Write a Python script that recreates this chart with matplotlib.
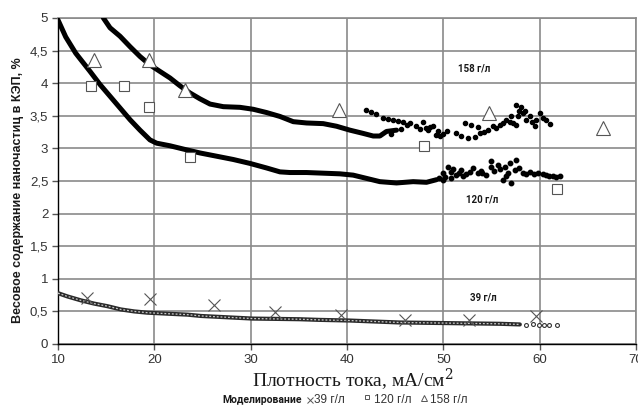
import matplotlib
matplotlib.use("Agg")
import matplotlib.pyplot as plt
from matplotlib.lines import Line2D
from matplotlib.ticker import FixedLocator, FuncFormatter

# ---------------- data ----------------
# experimental curve, 158 g/l: smooth part
c158_x = [14.71, 15.40, 16.44, 17.48, 18.51, 19.55, 20.59, 21.63, 22.66, 23.70,
          24.74, 25.78, 27.16, 28.89, 30.27, 31.65, 33.04, 34.42, 35.80, 37.53,
          38.91, 40.30, 41.68, 42.72, 43.41, 44.10, 45.14]
c158_y = [5.00, 4.85, 4.72, 4.56, 4.41, 4.28, 4.18, 4.08, 3.96, 3.85,
          3.76, 3.68, 3.64, 3.63, 3.60, 3.55, 3.49, 3.41, 3.39, 3.38,
          3.34, 3.28, 3.23, 3.19, 3.19, 3.26, 3.28]
# experimental scatter, 158 g/l: noisy part
s158_x = [42.00, 42.50, 43.06, 43.75, 44.30, 44.79, 45.30, 45.83, 46.52, 47.21,
          47.91, 48.25, 48.60, 48.94, 49.46, 49.63, 50.33, 44.60, 45.60, 46.20,
          51.36, 51.88, 52.57, 53.26, 53.78, 52.22, 52.91, 53.60, 54.64, 55.16,
          55.85, 56.55, 57.07, 57.59, 58.11, 57.24, 58.28, 58.97, 59.66, 60.00,
          60.35, 61.04, 59.49, 57.59, 56.20, 47.60, 48.40, 49.20, 50.00, 54.20,
          55.50, 56.90, 57.90, 58.60, 59.20, 60.70, 57.80, 58.50]
s158_y = [3.59, 3.56, 3.52, 3.46, 3.45, 3.44, 3.42, 3.41, 3.39, 3.34,
          3.40, 3.31, 3.33, 3.34, 3.26, 3.19, 3.26, 3.22, 3.30, 3.36,
          3.23, 3.19, 3.16, 3.18, 3.24, 3.39, 3.36, 3.33, 3.28, 3.34,
          3.36, 3.44, 3.49, 3.67, 3.64, 3.39, 3.54, 3.49, 3.44, 3.54,
          3.46, 3.38, 3.34, 3.36, 3.39, 3.30, 3.28, 3.21, 3.22, 3.25,
          3.31, 3.41, 3.58, 3.44, 3.40, 3.43, 3.50, 3.57]

# experimental curve, 120 g/l: smooth part
c120_x = [10.00, 10.80, 11.84, 13.33, 14.36, 15.40, 16.44, 17.48, 18.51, 19.55,
          20.24, 21.63, 23.01, 24.74, 26.47, 28.19, 29.92, 31.65, 33.04, 34.07,
          35.80, 37.53, 39.26, 40.64, 42.03, 43.41, 45.14, 46.87, 48.25, 49.29]
c120_y = [4.97, 4.71, 4.46, 4.18, 3.98, 3.80, 3.62, 3.44, 3.28, 3.13,
          3.08, 3.04, 2.99, 2.93, 2.88, 2.83, 2.77, 2.70, 2.64, 2.63,
          2.63, 2.62, 2.61, 2.59, 2.54, 2.49, 2.47, 2.49, 2.48, 2.52]
# experimental scatter, 120 g/l: noisy part
s120_x = [49.98, 50.50, 51.02, 51.36, 50.84, 51.88, 52.75, 53.61, 54.47, 54.99,
          55.68, 56.37, 56.89, 57.41, 56.55, 57.07, 56.20, 58.28, 58.97, 59.83,
          60.69, 61.39, 62.08, 57.59, 53.09, 53.95, 49.98, 52.06, 50.20, 50.80,
          51.60, 52.40, 54.00, 55.30, 55.90, 56.70, 57.90, 58.60, 59.40, 60.30,
          61.00, 61.70, 49.60, 55.00]
s120_y = [2.62, 2.72, 2.68, 2.59, 2.54, 2.67, 2.64, 2.62, 2.59, 2.80,
          2.75, 2.72, 2.77, 2.67, 2.57, 2.47, 2.52, 2.62, 2.64, 2.62,
          2.59, 2.57, 2.57, 2.82, 2.70, 2.65, 2.52, 2.57, 2.56, 2.64,
          2.63, 2.60, 2.62, 2.66, 2.69, 2.62, 2.70, 2.60, 2.61, 2.60,
          2.58, 2.56, 2.55, 2.72]

# experimental curve, 39 g/l
c39_x = [10.0, 10.97, 12.36, 13.74, 15.13, 16.52, 17.9, 19.29, 20.68, 22.06,
         23.45, 24.84, 30.2, 35.06, 37.1, 40.26, 45.46, 50.66, 55.86, 57.94]
c39_y = [0.78, 0.73, 0.67, 0.62, 0.58, 0.53, 0.50, 0.48, 0.47, 0.46,
         0.45, 0.43, 0.39, 0.38, 0.37, 0.36, 0.33, 0.32, 0.31, 0.30]
s39_x = [58.6, 59.3, 59.9, 60.4, 61.0, 61.8]
s39_y = [0.29, 0.30, 0.29, 0.29, 0.29, 0.29]

# modelling results
m39_x = [13.0, 19.5, 26.2, 32.5, 39.4, 46.0, 52.7, 59.6]
m39_y = [0.71, 0.69, 0.60, 0.49, 0.44, 0.37, 0.37, 0.43]
m120_x = [13.4, 16.9, 19.4, 23.7, 48.0, 61.8]
m120_y = [3.96, 3.95, 3.63, 2.87, 3.04, 2.38]
m158_x = [13.7, 19.4, 23.2, 39.2, 54.7, 66.6]
m158_y = [4.36, 4.35, 3.90, 3.59, 3.54, 3.31]

x_ticks = [10, 20, 30, 40, 50, 60, 70]
y_ticks = [0, 0.5, 1, 1.5, 2, 2.5, 3, 3.5, 4, 4.5, 5]

# ---------------- figure ----------------
W, H = 638, 408
fig = plt.figure(figsize=(W / 100, H / 100), dpi=100)
ax = fig.add_axes([58 / W, 1 - 344 / H, 578 / W, 326 / H])
ax.set_xlim(10, 70)
ax.set_ylim(0, 5)

grid_c = "#8a8a8a"
ax.xaxis.set_major_locator(FixedLocator(x_ticks))
ax.yaxis.set_major_locator(FixedLocator(y_ticks))
ax.yaxis.set_major_formatter(FuncFormatter(lambda v, p: f"{v:g}".replace(".", ",")))
ax.grid(True, color=grid_c, lw=1.2)
ax.set_axisbelow(True)
for s in ("top", "right"):
    ax.spines[s].set_color(grid_c)
    ax.spines[s].set_linewidth(1.2)
for s in ("left", "bottom"):
    ax.spines[s].set_color("#000000")
    ax.spines[s].set_linewidth(1.0)
ax.tick_params(direction="out", length=4, width=1, color="#555555",
               labelsize=9.5, labelcolor="#333333", pad=3)
for lab in ax.get_xticklabels() + ax.get_yticklabels():
    lab.set_family("Liberation Sans")

# experimental data
ax.plot(c158_x, c158_y, color="black", lw=3.6, solid_capstyle="round",
        solid_joinstyle="round", zorder=3)
ax.plot(s158_x, s158_y, ls="none", marker="o", ms=3.0, color="black", zorder=3)
ax.plot(c120_x, c120_y, color="black", lw=3.6, solid_capstyle="round",
        solid_joinstyle="round", zorder=3)
ax.plot(s120_x, s120_y, ls="none", marker="o", ms=3.2, color="black", zorder=3)
ax.plot(c39_x, c39_y, color="#2a2a2a", lw=3.0, solid_capstyle="round", zorder=3)
ax.plot(c39_x, c39_y, color="#c8c8c8", lw=0.9, ls=(0, (1.5, 1.5)), zorder=3)
ax.plot(s39_x, s39_y, ls="none", marker="o", ms=2.8, mfc="white",
        mec="#333333", mew=0.8, zorder=3)

# modelling data
ax.plot(m39_x, m39_y, ls="none", marker="x", ms=8.5, mew=0.8, color="#555555", zorder=4)
ax.plot(m120_x, m120_y, ls="none", marker="s", ms=7, mfc="white",
        mec="#555555", mew=0.8, zorder=4)
ax.plot(m158_x, m158_y, ls="none", marker="^", ms=10, mfc="white",
        mec="#555555", mew=0.8, zorder=4)

# curve labels
lab_kw = dict(fontsize=7, fontweight="bold", family="Roboto", color="#1a1a1a",
              ha="center", va="center", zorder=5)
ax.text(53.2, 4.23, "158 г/л", **lab_kw)
ax.text(54.0, 2.21, "120 г/л", **lab_kw)
ax.text(54.1, 0.72, "39 г/л", **lab_kw)

# axis titles
fig.text(18 / W, 1 - 190 / H, "Весовое содержание наночастиц в КЭП, %",
         rotation=90, ha="center", va="center", fontsize=9, fontweight="bold",
         family="Liberation Sans", color="#1a1a1a")
fig.text(353 / W, 1 - 380 / H, "Плотность тока, мА/см$^2$",
         ha="center", va="center", fontsize=14, family="Liberation Serif",
         math_fontfamily="dejavuserif", color="#1a1a1a")

# legend row
ly = 1 - 400 / H
fig.text(222 / W, ly, "Моделирование", ha="left", va="center", fontsize=7.5,
         fontweight="bold", family="Roboto", color="#1a1a1a")
fig.add_artist(Line2D([310 / W], [ly + 0.001], transform=fig.transFigure,
                      marker="x", ms=5, mew=0.7, color="#555555", ls="none"))
fig.text(314 / W, ly, "39 г/л", ha="left", va="center", fontsize=8.5,
         family="Liberation Sans", color="#333333")
fig.add_artist(Line2D([367 / W], [ly + 0.008], transform=fig.transFigure,
                      marker="s", ms=3.5, mew=0.7, mfc="white", mec="#555555", ls="none"))
fig.text(374 / W, ly, "120 г/л", ha="left", va="center", fontsize=8.5,
         family="Liberation Sans", color="#333333")
fig.add_artist(Line2D([424 / W], [ly + 0.004], transform=fig.transFigure,
                      marker="^", ms=4, mew=0.7, mfc="white", mec="#555555", ls="none"))
fig.text(430 / W, ly, "158 г/л", ha="left", va="center", fontsize=8.5,
         family="Liberation Sans", color="#333333")

fig.savefig("out.png", dpi=100)
